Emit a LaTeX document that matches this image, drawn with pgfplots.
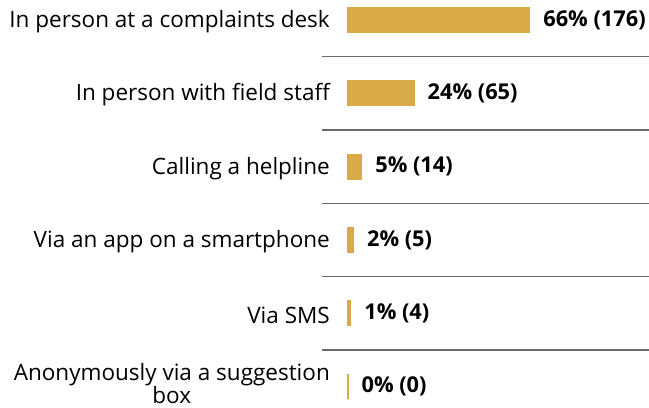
\documentclass[border=0pt]{standalone}
\usepackage{pgfplots}
\pgfplotsset{compat=1.18}
\usepackage{fontspec}
\setmainfont{Open Sans}
\definecolor{barcol}{HTML}{D8AB48}
\definecolor{sepcol}{HTML}{6A6A6A}
\begin{document}
\begin{tikzpicture}
\begin{axis}[
  scale only axis,
  width=327bp, height=408bp,
  xbar, bar width=25bp,
  xmin=-9.44, xmax=109.3,
  ymin=-0.2727, ymax=5.29,
  y dir=reverse,
  axis lines=none,
  clip=false,
  ytick=\empty, xtick=\empty,
  point meta=explicit symbolic,
  nodes near coords,
  nodes near coords style={anchor=west, inner sep=0pt, xshift=13bp, font=\fontsize{21.8bp}{22bp}\selectfont\bfseries, text=black},
]
\addplot[fill=barcol, draw=barcol, line width=1.2bp] coordinates {
 (66,0) [66\% (176)]
 (24,1) [24\% (65)]
 (5,2) [5\% (14)]
 (2,3) [2\% (5)]
 (1,4) [1\% (4)]
 (0,5) [0\% (0)]
};
\foreach \yy in {0.5,1.5,2.5,3.5,4.5}{
  \edef\tmp{\noexpand\draw[sepcol, line width=1.4bp] (axis cs:-9.44,\yy) -- (axis cs:109.3,\yy);}
  \tmp
}
\coordinate (tl) at (rel axis cs:0,0);
\coordinate (br) at (rel axis cs:1,1);
\foreach \yy/\ys/\lab in {0/-1.5/{In person at a complaints desk},1/-1.5/{In person with field staff},2/-1.5/{Calling a helpline},3/-1.5/{Via an app on a smartphone},4/-1.5/{Via SMS},5/3/{Anonymously via a suggestion\\box}}{
  \edef\tmp{\noexpand\node[anchor=east, inner sep=0pt, align=center, font=\noexpand\fontsize{22.5bp}{21.5bp}\noexpand\selectfont] at ([xshift=8bp, yshift=\ys bp]axis cs:-9.44,\yy) {\unexpanded\expandafter{\lab}};}
  \tmp
}
\end{axis}
\pgfresetboundingbox
\path ([xshift=-322bp]tl) rectangle (br);
\end{tikzpicture}
\end{document}
